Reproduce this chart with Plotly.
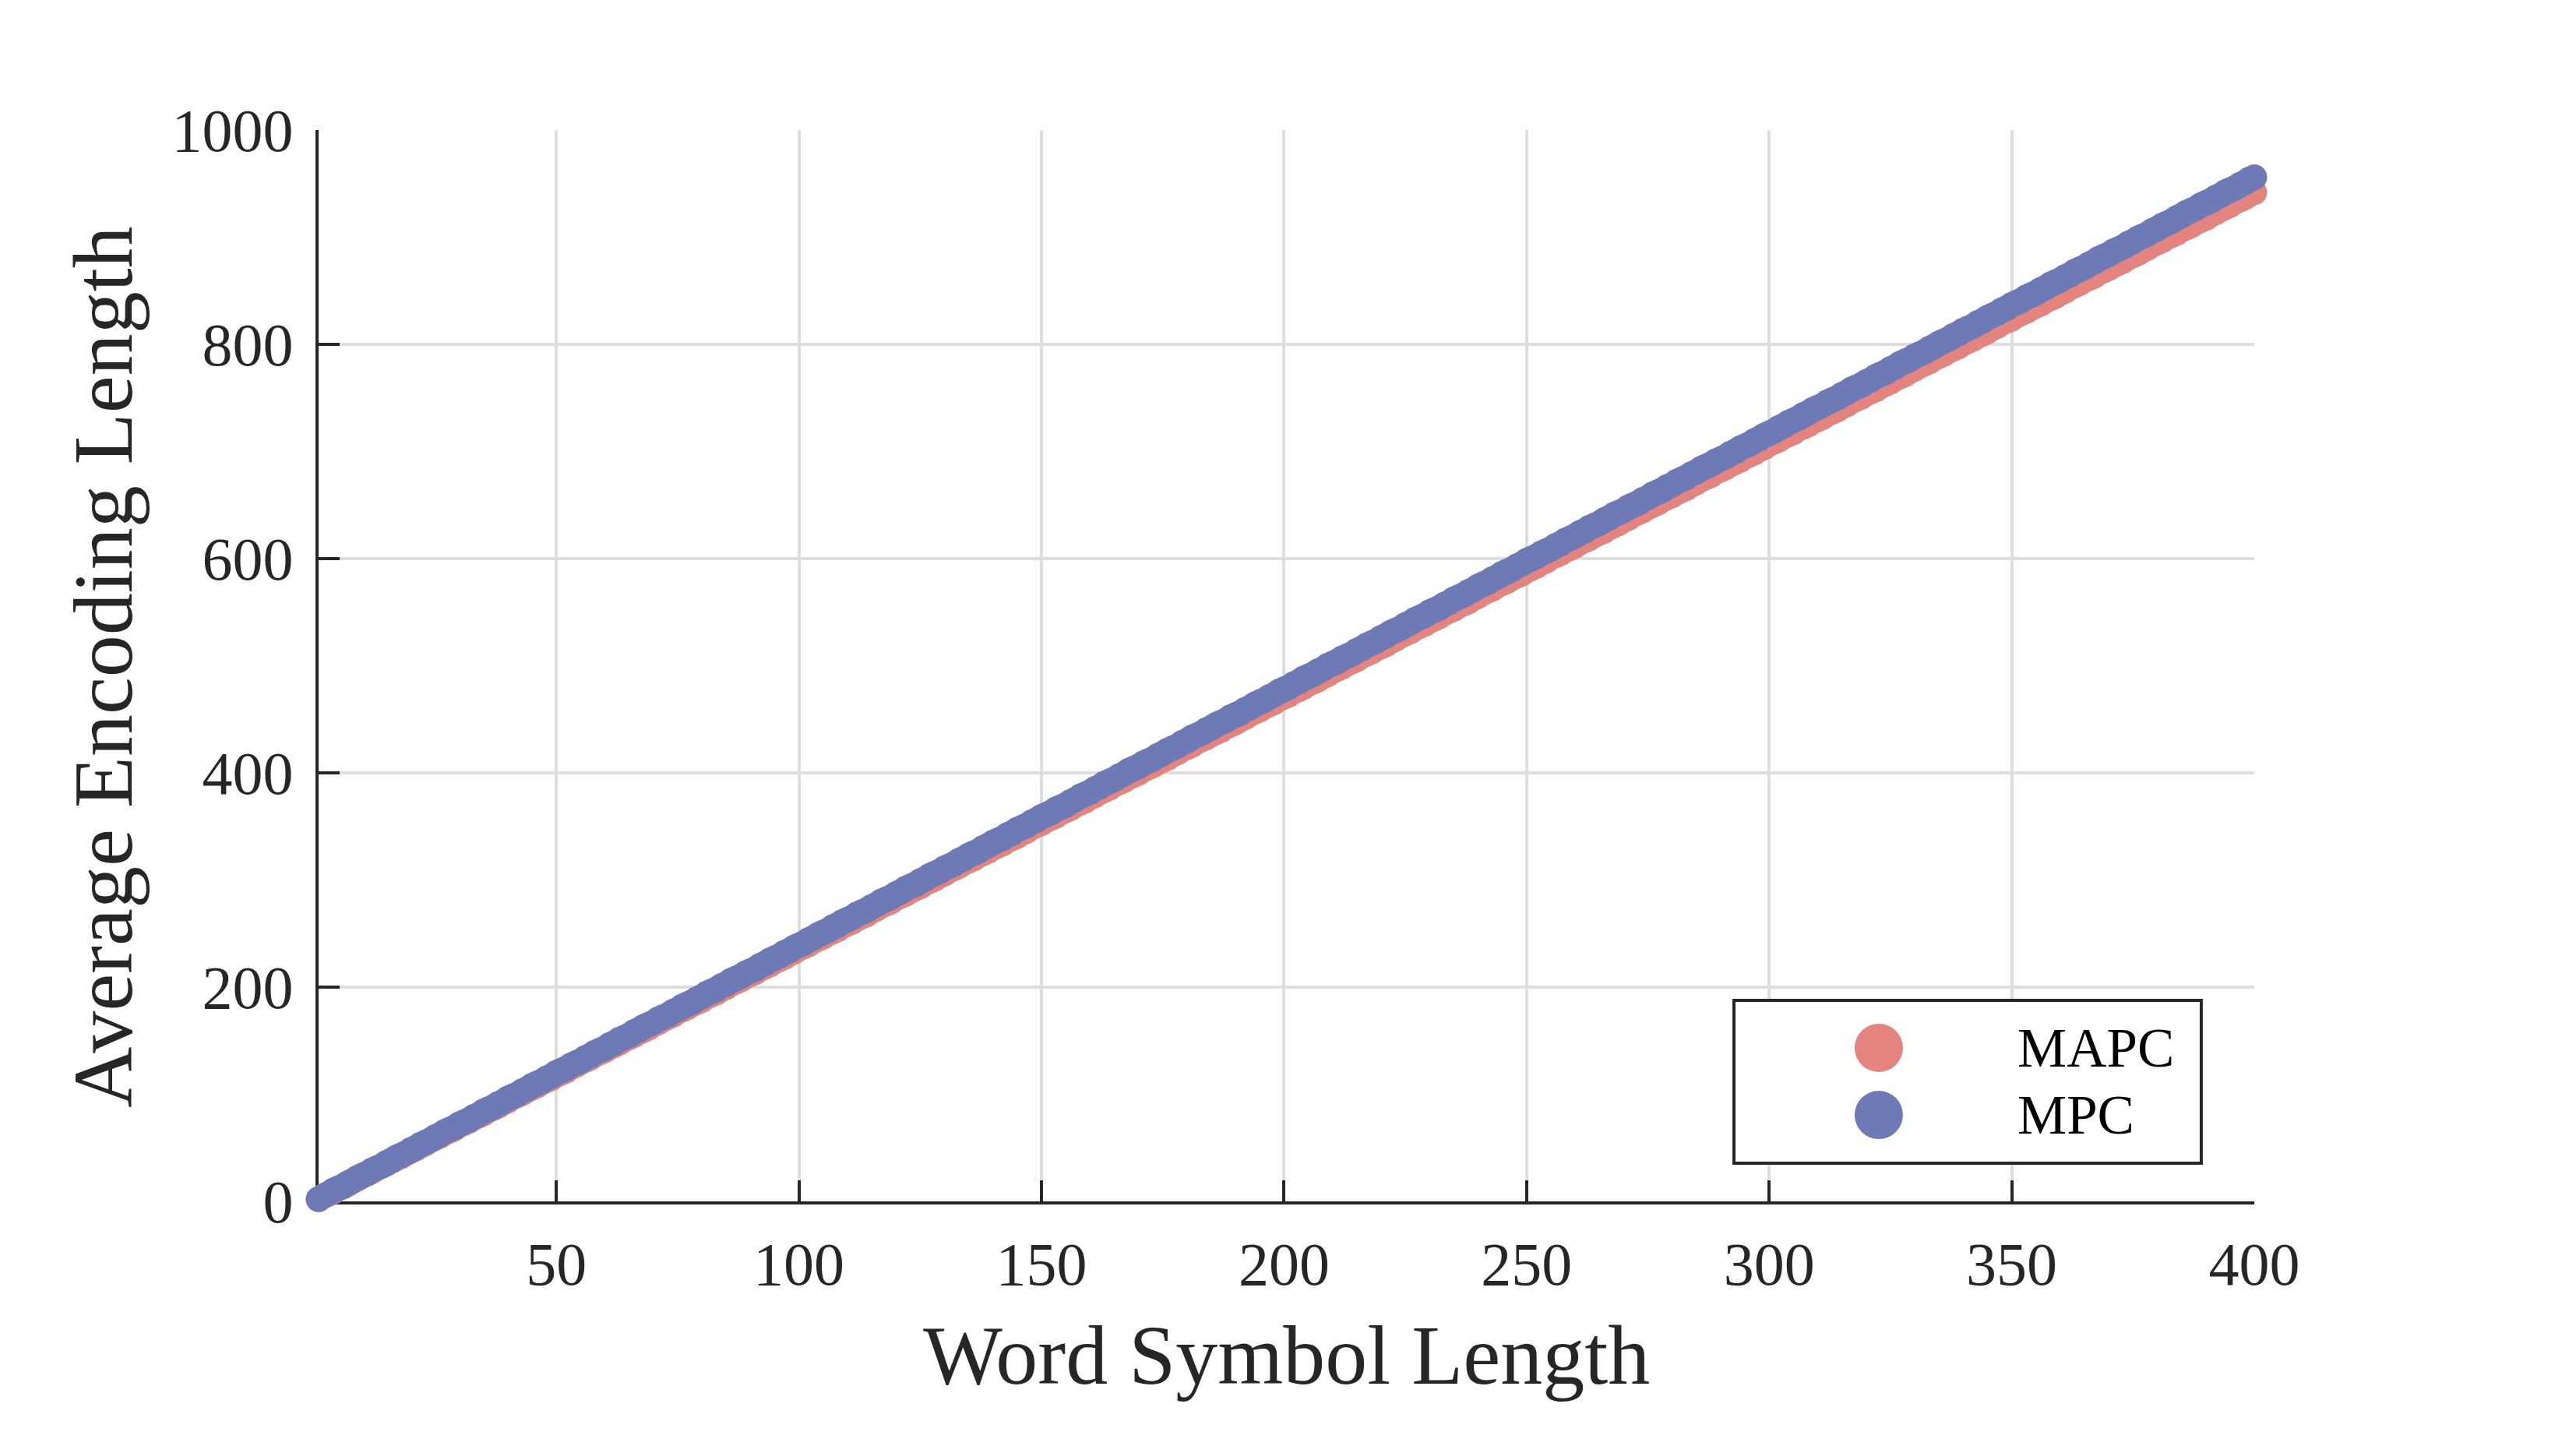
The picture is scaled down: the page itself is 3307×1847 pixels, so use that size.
import plotly.graph_objects as go

# Word symbol length (x) and average encoding length for each coder
WORD_LEN = list(range(1, 401))

MAPC = [
    2, 5, 7, 9, 12, 14, 16, 19, 21, 24,
    26, 28, 31, 33, 35, 38, 40, 42, 45, 47,
    49, 52, 54, 57, 59, 61, 64, 66, 68, 71,
    73, 75, 78, 80, 82, 85, 87, 89, 92, 94,
    97, 99, 101, 104, 106, 108, 111, 113, 115, 118,
    120, 122, 125, 127, 130, 132, 134, 137, 139, 141,
    144, 146, 148, 151, 153, 155, 158, 160, 162, 165,
    167, 170, 172, 174, 177, 179, 181, 184, 186, 188,
    191, 193, 195, 198, 200, 203, 205, 207, 210, 212,
    214, 217, 219, 221, 224, 226, 228, 231, 233, 236,
    238, 240, 243, 245, 247, 250, 252, 254, 257, 259,
    261, 264, 266, 268, 271, 273, 276, 278, 280, 283,
    285, 287, 290, 292, 294, 297, 299, 301, 304, 306,
    309, 311, 313, 316, 318, 320, 323, 325, 327, 330,
    332, 334, 337, 339, 341, 344, 346, 349, 351, 353,
    356, 358, 360, 363, 365, 367, 370, 372, 374, 377,
    379, 382, 384, 386, 389, 391, 393, 396, 398, 400,
    403, 405, 407, 410, 412, 414, 417, 419, 422, 424,
    426, 429, 431, 433, 436, 438, 440, 443, 445, 447,
    450, 452, 455, 457, 459, 462, 464, 466, 469, 471,
    473, 476, 478, 480, 483, 485, 487, 490, 492, 495,
    497, 499, 502, 504, 506, 509, 511, 513, 516, 518,
    520, 523, 525, 528, 530, 532, 535, 537, 539, 542,
    544, 546, 549, 551, 553, 556, 558, 560, 563, 565,
    568, 570, 572, 575, 577, 579, 582, 584, 586, 589,
    591, 593, 596, 598, 601, 603, 605, 608, 610, 612,
    615, 617, 619, 622, 624, 626, 629, 631, 633, 636,
    638, 641, 643, 645, 648, 650, 652, 655, 657, 659,
    662, 664, 666, 669, 671, 674, 676, 678, 681, 683,
    685, 688, 690, 692, 695, 697, 699, 702, 704, 707,
    709, 711, 714, 716, 718, 721, 723, 725, 728, 730,
    732, 735, 737, 739, 742, 744, 747, 749, 751, 754,
    756, 758, 761, 763, 765, 768, 770, 772, 775, 777,
    780, 782, 784, 787, 789, 791, 794, 796, 798, 801,
    803, 805, 808, 810, 812, 815, 817, 820, 822, 824,
    827, 829, 831, 834, 836, 838, 841, 843, 845, 848,
    850, 853, 855, 857, 860, 862, 864, 867, 869, 871,
    874, 876, 878, 881, 883, 885, 888, 890, 893, 895,
    897, 900, 902, 904, 907, 909, 911, 914, 916, 918,
    921, 923, 926, 928, 930, 933, 935, 937, 940, 942,
]

MPC = [
    2, 5, 7, 10, 12, 14, 17, 19, 22, 24,
    26, 29, 31, 33, 36, 38, 41, 43, 45, 48,
    50, 53, 55, 57, 60, 62, 65, 67, 69, 72,
    74, 76, 79, 81, 84, 86, 88, 91, 93, 96,
    98, 100, 103, 105, 108, 110, 112, 115, 117, 120,
    122, 124, 127, 129, 131, 134, 136, 139, 141, 143,
    146, 148, 151, 153, 155, 158, 160, 163, 165, 167,
    170, 172, 174, 177, 179, 182, 184, 186, 189, 191,
    194, 196, 198, 201, 203, 206, 208, 210, 213, 215,
    217, 220, 222, 225, 227, 229, 232, 234, 237, 239,
    241, 244, 246, 249, 251, 253, 256, 258, 261, 263,
    265, 268, 270, 272, 275, 277, 280, 282, 284, 287,
    289, 292, 294, 296, 299, 301, 304, 306, 308, 311,
    313, 315, 318, 320, 323, 325, 327, 330, 332, 335,
    337, 339, 342, 344, 347, 349, 351, 354, 356, 359,
    361, 363, 366, 368, 370, 373, 375, 378, 380, 382,
    385, 387, 390, 392, 394, 397, 399, 402, 404, 406,
    409, 411, 413, 416, 418, 421, 423, 425, 428, 430,
    433, 435, 437, 440, 442, 445, 447, 449, 452, 454,
    456, 459, 461, 464, 466, 468, 471, 473, 476, 478,
    480, 483, 485, 488, 490, 492, 495, 497, 500, 502,
    504, 507, 509, 511, 514, 516, 519, 521, 523, 526,
    528, 531, 533, 535, 538, 540, 543, 545, 547, 550,
    552, 554, 557, 559, 562, 564, 566, 569, 571, 574,
    576, 578, 581, 583, 586, 588, 590, 593, 595, 598,
    600, 602, 605, 607, 609, 612, 614, 617, 619, 621,
    624, 626, 629, 631, 633, 636, 638, 641, 643, 645,
    648, 650, 652, 655, 657, 660, 662, 664, 667, 669,
    672, 674, 676, 679, 681, 684, 686, 688, 691, 693,
    695, 698, 700, 703, 705, 707, 710, 712, 715, 717,
    719, 722, 724, 727, 729, 731, 734, 736, 739, 741,
    743, 746, 748, 750, 753, 755, 758, 760, 762, 765,
    767, 770, 772, 774, 777, 779, 782, 784, 786, 789,
    791, 793, 796, 798, 801, 803, 805, 808, 810, 813,
    815, 817, 820, 822, 825, 827, 829, 832, 834, 837,
    839, 841, 844, 846, 848, 851, 853, 856, 858, 860,
    863, 865, 868, 870, 872, 875, 877, 880, 882, 884,
    887, 889, 891, 894, 896, 899, 901, 903, 906, 908,
    911, 913, 915, 918, 920, 923, 925, 927, 930, 932,
    934, 937, 939, 942, 944, 946, 949, 951, 954, 956,
]

X_TICKS = [50, 100, 150, 200, 250, 300, 350, 400]
Y_TICKS = [0, 200, 400, 600, 800, 1000]

SERIES = [("MAPC", MAPC, "#E4847F"), ("MPC", MPC, "#6E7AB6")]

FONT = "Liberation Serif, Times New Roman, serif"
INK = "#262626"
GRID = "#dedede"

fig = go.Figure()
for name, vals, col in SERIES:
    fig.add_trace(go.Scatter(
        x=WORD_LEN, y=vals, name=name, mode="markers",
        marker=dict(size=33, color=col, line_width=0),
        cliponaxis=False, showlegend=False,
    ))

axis_common = dict(
    showline=True, linecolor=INK, linewidth=4,
    ticks="inside", ticklen=27, tickwidth=4, tickcolor=INK,
    showgrid=True, gridcolor=GRID, gridwidth=4,
    zeroline=False, layer="below traces",
    tickfont=dict(family=FONT, size=78, color=INK),
)

fig.update_xaxes(range=[1, 400], tickvals=X_TICKS, ticklabelstandoff=9, **axis_common)
fig.update_yaxes(range=[0, 1000], tickvals=Y_TICKS, ticklabelstandoff=13, **axis_common)

# hand-made legend so the symbols can be as large as in the original
shapes = [dict(type="rect", xref="paper", yref="paper",
               x0=0.7312, x1=0.9726, y0=0.0356, y1=0.1876,
               line=dict(color=INK, width=4), fillcolor="white", layer="above")]
annotations = []
for (name, vals, col), ly in zip(SERIES, [0.1433, 0.0807]):
    shapes.append(dict(type="circle", xref="paper", yref="paper",
                       xsizemode="pixel", ysizemode="pixel",
                       xanchor=0.806, yanchor=ly,
                       x0=-31, x1=31, y0=-31, y1=31,
                       fillcolor=col, line_width=0, layer="above"))
    annotations.append(dict(text=name, xref="paper", yref="paper",
                            x=0.8769, y=ly, xanchor="left", yanchor="middle",
                            showarrow=False,
                            font=dict(family=FONT, size=71, color="black")))

annotations.append(dict(text="Word Symbol Length", xref="paper", yref="paper",
                        x=0.5, y=-0.144, xanchor="center", yanchor="middle",
                        showarrow=False, font=dict(family=FONT, size=108, color=INK)))
annotations.append(dict(text="Average Encoding Length", xref="paper", yref="paper",
                        x=-0.1111, y=0.499, xanchor="center", yanchor="middle",
                        textangle=-90, showarrow=False,
                        font=dict(family=FONT, size=108, color=INK)))

# page body adds ~8px around the figure, so shrink the canvas to fit
fig.update_layout(
    width=3291, height=1831,
    margin=dict(l=401, r=405, t=159, b=297),
    plot_bgcolor="white", paper_bgcolor="white",
    shapes=shapes, annotations=annotations,
)

fig.write_html("out.html")
